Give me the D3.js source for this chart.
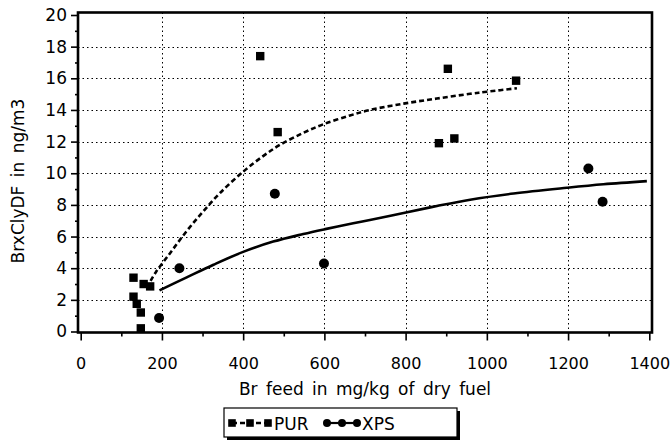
<!DOCTYPE html>
<html>
<head>
<meta charset="utf-8">
<script src="https://cdn.jsdelivr.net/npm/d3@7"></script>
<style>
  body { margin: 0; background: #fff; }
  svg { display: block; font-family: "DejaVu Sans", sans-serif; }
</style>
</head>
<body>
<div id="chart"></div>
<script>
// data
var purX = [130, 155, 171, 130, 138, 148, 148, 442, 485, 882, 904, 920, 1072];
var purY = [3.4, 3.0, 2.85, 2.2, 1.75, 1.2, 0.2, 17.4, 12.6, 11.9, 16.6, 12.2, 15.85];

var xpsX = [193, 243, 478, 599, 1250, 1285];
var xpsY = [0.85, 4.0, 8.7, 4.3, 10.3, 8.2];

// fitted curves
var purFitX = [172, 185, 220, 261, 302, 343, 400, 450, 491, 548, 598, 663, 712, 795, 877, 959, 1000, 1074];
var purFitY = [3.2, 3.75, 4.95, 6.35, 7.6, 8.75, 10.1, 11.1, 11.8, 12.55, 13.1, 13.65, 14.0, 14.4, 14.72, 15.02, 15.15, 15.37];

var xpsFitX = [194, 261, 327, 400, 474, 548, 602, 671, 712, 795, 877, 959, 1066, 1197, 1287, 1394];
var xpsFitY = [2.6, 3.42, 4.22, 5.03, 5.68, 6.16, 6.47, 6.84, 7.05, 7.49, 7.93, 8.33, 8.72, 9.08, 9.3, 9.5];

var xTicks = [0, 200, 400, 600, 800, 1000, 1200, 1400];
var yTicks = [0, 2, 4, 6, 8, 10, 12, 14, 16, 18, 20];

var svgWidth = 670;
var svgHeight = 442;

// frame of the plot
var frame = { left: 78, right: 652, top: 12.5, bottom: 332.5 };

var svg = d3.select("#chart")
  .append("svg")
  .attr("width", svgWidth)
  .attr("height", svgHeight);

svg.append("rect")
  .attr("width", svgWidth)
  .attr("height", svgHeight)
  .attr("fill", "#fff");

var xScale = d3.scaleLinear().domain([0, 1400]).range([80.7, 649.3]);
var yScale = d3.scaleLinear().domain([0, 20]).range([331.5, 15]);

// dotted grid
var grid = svg.append("g").attr("stroke", "#000").attr("stroke-width", 1).attr("stroke-dasharray", "1.5,3");
grid.selectAll(".gx")
  .data(xTicks.slice(1, -1))
  .enter()
  .append("line")
  .attr("x1", d => Math.round(xScale(d)) + 0.5)
  .attr("x2", d => Math.round(xScale(d)) + 0.5)
  .attr("y1", frame.top)
  .attr("y2", frame.bottom);
grid.selectAll(".gy")
  .data(yTicks.slice(1, -1))
  .enter()
  .append("line")
  .attr("x1", frame.left)
  .attr("x2", frame.right)
  .attr("y1", d => Math.round(yScale(d)) + 0.5)
  .attr("y2", d => Math.round(yScale(d)) + 0.5);

// axes
var bottomAxis = d3.axisBottom(xScale).tickValues(xTicks).tickFormat(d3.format("d")).tickSize(8).tickPadding(17);
var bottomMinor = d3.axisBottom(xScale).tickValues(d3.range(100, 1400, 200)).tickSize(4).tickFormat("");
var leftAxis = d3.axisLeft(yScale).tickValues(yTicks).tickFormat(d3.format("d")).tickSize(7).tickPadding(4);
var leftMinor = d3.axisLeft(yScale).tickValues(d3.range(1, 20, 2)).tickSize(3).tickFormat("");

function styleAxis(g) {
  g.select(".domain").remove();
  g.selectAll("line").attr("stroke", "#000").attr("stroke-width", 1.6);
  g.selectAll("text")
    .attr("font-family", "DejaVu Sans, sans-serif")
    .attr("font-size", 17)
    .attr("fill", "#000");
}

svg.append("g").attr("transform", `translate(0, ${frame.bottom})`).call(bottomAxis).call(styleAxis)
  .selectAll("text").attr("font-size", 16);
svg.append("g").attr("transform", `translate(0, ${frame.bottom})`).call(bottomMinor).call(styleAxis);
svg.append("g").attr("transform", `translate(${frame.left}, 0)`).call(leftAxis).call(styleAxis);
svg.append("g").attr("transform", `translate(${frame.left}, 0)`).call(leftMinor).call(styleAxis);

// frame
svg.append("rect")
  .attr("x", frame.left)
  .attr("y", frame.top)
  .attr("width", frame.right - frame.left)
  .attr("height", frame.bottom - frame.top)
  .attr("fill", "none")
  .attr("stroke", "#000")
  .attr("stroke-width", 2.6);

// fit lines
var purFit = purFitX.map((x, i) => [x, purFitY[i]]);
var xpsFit = xpsFitX.map((x, i) => [x, xpsFitY[i]]);
var line = d3.line()
  .x(d => xScale(d[0]))
  .y(d => yScale(d[1]))
  .curve(d3.curveCatmullRom);

svg.append("path")
  .attr("d", line(purFit))
  .attr("fill", "none")
  .attr("stroke", "#000")
  .attr("stroke-width", 2.6)
  .attr("stroke-dasharray", "5,3");

svg.append("path")
  .attr("d", line(xpsFit))
  .attr("fill", "none")
  .attr("stroke", "#000")
  .attr("stroke-width", 2.6);

// points
var purPts = purX.map((x, i) => [x, purY[i]]);
var xpsPts = xpsX.map((x, i) => [x, xpsY[i]]);

svg.selectAll(".pur")
  .data(purPts)
  .enter()
  .append("rect")
  .attr("class", "pur")
  .attr("x", d => xScale(d[0]) - 4.2)
  .attr("y", d => yScale(d[1]) - 4.2)
  .attr("width", 8.4)
  .attr("height", 8.4)
  .attr("fill", "#000");

svg.selectAll(".xps")
  .data(xpsPts)
  .enter()
  .append("circle")
  .attr("class", "xps")
  .attr("cx", d => xScale(d[0]))
  .attr("cy", d => yScale(d[1]))
  .attr("r", 5)
  .attr("fill", "#000");

// axis titles
svg.append("text")
  .attr("x", 365)
  .attr("y", 395)
  .attr("text-anchor", "middle")
  .attr("font-size", 17)
  .attr("word-spacing", 3)
  .text("Br feed in mg/kg of dry fuel");

svg.append("text")
  .attr("transform", "translate(24, 181) rotate(-90)")
  .attr("text-anchor", "middle")
  .attr("font-size", 17)
  .attr("word-spacing", 3)
  .text("BrxClyDF in ng/m3");

// legend
var legend = svg.append("g");
legend.append("rect")
  .attr("x", 227).attr("y", 411).attr("width", 233).attr("height", 29)
  .attr("fill", "#000");
legend.append("rect")
  .attr("x", 224).attr("y", 408).attr("width", 233).attr("height", 29)
  .attr("fill", "#fff").attr("stroke", "#000").attr("stroke-width", 1.2);

legend.append("line")
  .attr("x1", 232).attr("x2", 268).attr("y1", 423).attr("y2", 423)
  .attr("stroke", "#000").attr("stroke-width", 2.6).attr("stroke-dasharray", "5,3");
legend.selectAll(".lpur")
  .data([232, 250, 268])
  .enter()
  .append("rect")
  .attr("x", d => d - 3.8).attr("y", 419.2).attr("width", 7.6).attr("height", 7.6)
  .attr("fill", "#000");
legend.append("text")
  .attr("x", 274).attr("y", 430)
  .attr("font-size", 17)
  .text("PUR");

legend.append("line")
  .attr("x1", 327).attr("x2", 357).attr("y1", 423).attr("y2", 423)
  .attr("stroke", "#000").attr("stroke-width", 2.2);
legend.selectAll(".lxps")
  .data([327, 342, 357])
  .enter()
  .append("circle")
  .attr("cx", d => d).attr("cy", 423).attr("r", 4)
  .attr("fill", "#000");
legend.append("text")
  .attr("x", 362).attr("y", 430)
  .attr("font-size", 17)
  .text("XPS");
</script>
</body>
</html>
